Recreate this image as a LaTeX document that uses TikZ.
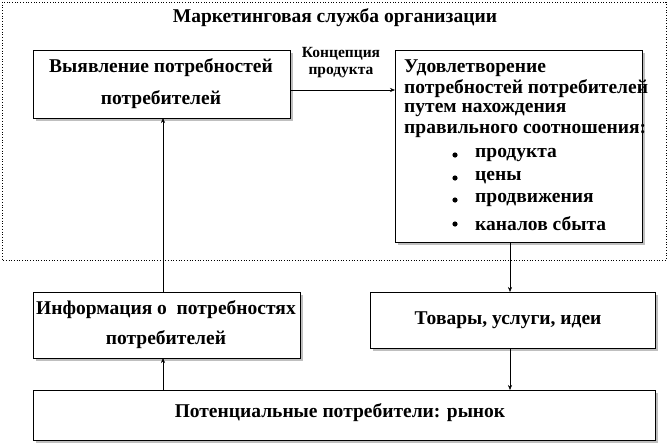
\documentclass[tikz,border=0pt]{standalone}
\usepackage{fontspec}
\setmainfont{Liberation Serif}
\usetikzlibrary{shadows,arrows.meta}
\begin{document}
\begin{tikzpicture}[x=1pt,y=-1pt,
  box/.style={draw,fill=white,line width=0.6pt,drop shadow={shadow xshift=3pt,shadow yshift=-3pt,opacity=0.5,fill=gray}},
  txt/.style={font=\fontsize{19.5}{22}\selectfont\bfseries,inner sep=0pt},
  arr/.style={-{Stealth[length=5pt,width=4pt]},line width=0.5pt}]
\useasboundingbox (0,0) rectangle (670,445);
\draw[dotted,line width=0.7pt] (2,2) rectangle (666,260);
\node[txt] (title) at (335,18) {Маркетинговая служба организации};
% box1
\draw[box] (33,50) rectangle (290,118);
\coordinate (b1b) at (163,118);
\coordinate (b1r) at (290,90);
\node[txt] (t1a) at (161,68) {Выявление потребностей};
\node[txt] (t1b) at (161,100) {потребителей};
% box2
\draw[box] (395,50) rectangle (642,242);
\coordinate (b2l) at (395,90);
\coordinate (b2b) at (510,242);
\node[txt,anchor=west] (t2a) at (404,68) {Удовлетворение};
\node[txt,anchor=west] (t2b) at (404,89) {потребностей потребителей};
\node[txt,anchor=west] (t2c) at (404,110) {путем нахождения};
\node[txt,anchor=west] (t2d) at (404,131) {правильного соотношения:};
\foreach \y/\w [count=\i] in {155/продукта,178/цены,200/продвижения,224/каналов сбыта}{
  \fill (455,\y) circle (2.6pt);
  \node[txt,anchor=west] (bl\i) at (475,\y) {\w};
}
\draw[arr] (b1r) -- (b2l);
\node[font=\fontsize{15.5}{17}\selectfont\bfseries,align=center,inner sep=0pt] (conc) at (341,63) {Концепция\\продукта};
% box3
\draw[box] (33,292) rectangle (300,358);
\coordinate (b3t) at (163,292);
\coordinate (b3b) at (163,358);
\node[txt] (t3a) at (166,310) {Информация о\ \ потребностях};
\node[txt] (t3b) at (166,340) {потребителей};
% box4
\draw[box] (370,292) rectangle (655,348);
\coordinate (b4t) at (510,292);
\coordinate (b4b) at (510,348);
\node[txt] (t4) at (508,320) {Товары, услуги, идеи};
% box5
\draw[box] (33,390) rectangle (655,440);
\coordinate (b5a) at (163,390);
\coordinate (b5b) at (510,390);
\node[txt] (t5) at (340,413) {Потенциальные потребители: рынок};
\draw[arr] (b3t) -- (b1b);
\draw[arr] (b5a) -- (b3b);
\draw[arr] (b2b) -- (b4t);
\draw[arr] (b4b) -- (b5b);
\end{tikzpicture}
\end{document}
